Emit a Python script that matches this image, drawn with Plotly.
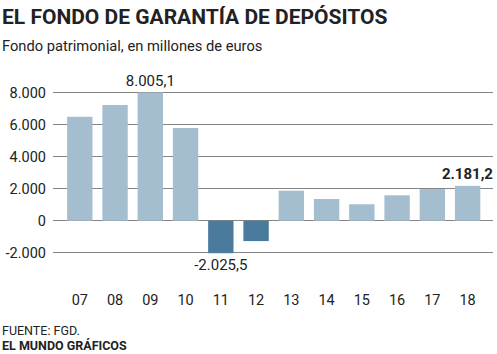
import plotly.graph_objects as go

years = ["07", "08", "09", "10", "11", "12", "13", "14", "15", "16", "17", "18"]
values = [6500, 7230, 8005.1, 5790, -2025.5, -1270, 1875, 1360, 1030, 1590, 1980, 2181.2]
value_labels = ["", "", "8.005,1", "", "-2.025,5", "", "", "", "", "", "", "<b>2.181,2</b>"]
y_tickvals = [-2000, 0, 2000, 4000, 6000, 8000]
y_ticktext = ["-2.000", "0", "2.000", "4.000", "6.000", "8.000"]

LIGHT = "#a4bed0"
DARK = "#4a7b9d"
colors = [DARK if v < 0 else LIGHT for v in values]

fig = go.Figure()
fig.add_trace(go.Bar(
    x=list(range(len(years))),
    y=values,
    marker=dict(color=colors, line=dict(width=0)),
    width=0.72,
    text=value_labels,
    textposition="outside",
    textfont=dict(family="Roboto", size=15, color="#222222"),
    constraintext="none",
    cliponaxis=False,
    hoverinfo="skip",
))

fig.update_layout(
    width=497, height=354,
    margin=dict(l=53, r=4, t=83, b=98),
    paper_bgcolor="white", plot_bgcolor="white",
    showlegend=False,
    bargap=0.28,
    font=dict(family="Roboto", color="#222222"),
    xaxis=dict(
        range=[-0.76, 11.72],
        tickmode="array",
        tickvals=list(range(len(years))),
        ticktext=years,
        showgrid=False, zeroline=False, showline=False,
        ticks="",
        tickfont=dict(family="Roboto", size=14.5, color="#222222"),
        ticklabelstandoff=33,
    ),
    yaxis=dict(
        range=[-2200, 8600],
        tickmode="array",
        tickvals=y_tickvals,
        ticktext=y_ticktext,
        showgrid=True, gridcolor="#858585", gridwidth=1.3,
        zeroline=True, zerolinecolor="#858585", zerolinewidth=1.3,
        showline=False, ticks="",
        tickfont=dict(family="Roboto", size=14.5, color="#222222"),
        ticklabelstandoff=6,
    ),
    annotations=[
        dict(text="<b>EL FONDO DE GARANTÍA DE DEPÓSITOS</b>", xref="paper", yref="paper",
             x=-53/440, y=1, yshift=83 - 17, xanchor="left", yanchor="middle", showarrow=False,
             font=dict(family="Roboto", size=21, color="#222222")),
        dict(text="Fondo patrimonial, en millones de euros", xref="paper", yref="paper",
             x=-53/440, y=1, yshift=83 - 46, xanchor="left", yanchor="middle", showarrow=False,
             font=dict(family="Roboto", size=14.7, color="#222222")),
        dict(text="FUENTE: FGD.", xref="paper", yref="paper",
             x=-53/440, y=0, yshift=-(330 - 256), xanchor="left", yanchor="middle", showarrow=False,
             font=dict(family="Roboto", size=12.5, color="#222222")),
        dict(text="<b>EL MUNDO GRÁFICOS</b>", xref="paper", yref="paper",
             x=-53/440, y=0, yshift=-(345 - 256), xanchor="left", yanchor="middle", showarrow=False,
             font=dict(family="Roboto", size=12.5, color="#222222")),
    ],
)

fig.write_html("out.html")
